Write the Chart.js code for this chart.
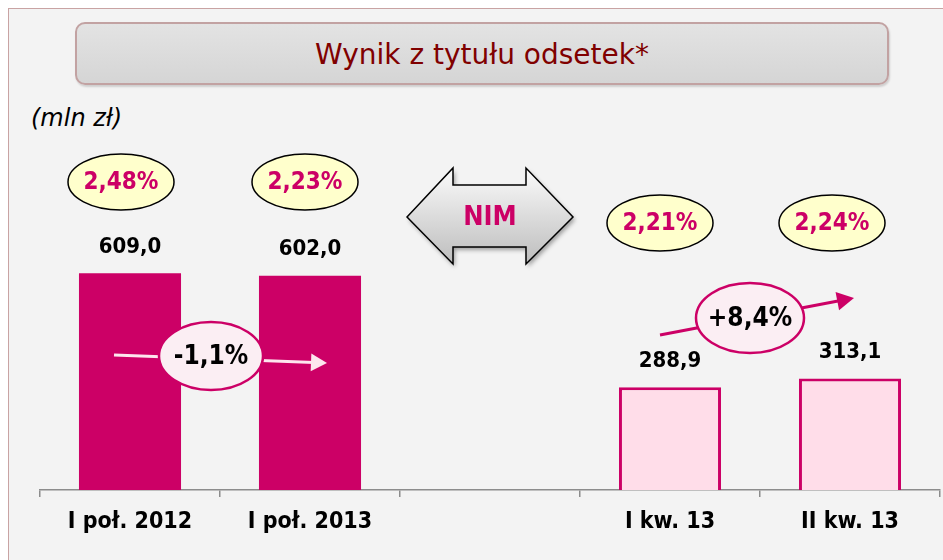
<!DOCTYPE html>
<html>
<head>
<meta charset="utf-8">
<script src="https://cdn.jsdelivr.net/npm/chart.js@4.4.0/dist/chart.umd.min.js"></script>
<style>
  body { margin: 0; background: #fff; width: 943px; height: 560px; overflow: hidden; position: relative;
    font-family: "DejaVu Sans", sans-serif; }
  #frame { position: absolute; left: 8px; top: 8px; width: 960px; height: 580px; background: #f3f3f3;
    border: 1px solid #c9a3a3; }
  #title { position: absolute; left: 75px; top: 22px; width: 810px; height: 59px; border: 2px solid #c2a2a2;
    border-radius: 10px; background: linear-gradient(#e3e3e3, #d5d5d5); color: #800000; font-size: 28px;
    line-height: 62px; text-align: center; box-shadow: 1px 2px 2px rgba(0, 0, 0, 0.15); }
  #unit { position: absolute; left: 31px; top: 104px; font-style: italic; font-size: 24px; color: #000; }
  #chart { position: absolute; left: 0; top: 0; }
</style>
</head>
<body>
<div id="frame"></div>
<div id="title">Wynik z tytułu odsetek*</div>
<div id="unit">(mln zł)</div>
<canvas id="chart" width="943" height="560"></canvas>
<script>
const FONT = '"DejaVu Sans Condensed", "DejaVu Sans", sans-serif'

// dane
const categories = ["I poł. 2012", "I poł. 2013", "", "I kw. 13", "II kw. 13"]
const values = [609.0, 602.0, null, 288.9, 313.1]
const nimLabels = ["2,48%", "2,23%", "", "2,21%", "2,24%"]
const changeLabels = ["-1,1%", "+8,4%"]

const fmt = (v) => v.toFixed(1).replace(".", ",")

function ellipse(ctx, cx, cy, rx, ry, fill, stroke, lw) {
  ctx.beginPath()
  ctx.ellipse(cx, cy, rx, ry, 0, 0, Math.PI * 2)
  ctx.fillStyle = fill
  ctx.fill()
  ctx.lineWidth = lw
  ctx.strokeStyle = stroke
  ctx.stroke()
}

function arrow(ctx, x1, y1, x2, y2, color, lw, head) {
  const a = Math.atan2(y2 - y1, x2 - x1)
  ctx.strokeStyle = color
  ctx.fillStyle = color
  ctx.lineWidth = lw
  ctx.beginPath()
  ctx.moveTo(x1, y1)
  ctx.lineTo(x2 - Math.cos(a) * head * 0.8, y2 - Math.sin(a) * head * 0.8)
  ctx.stroke()
  ctx.beginPath()
  ctx.moveTo(x2, y2)
  ctx.lineTo(x2 - head * Math.cos(a) + head * 0.55 * Math.sin(a), y2 - head * Math.sin(a) - head * 0.55 * Math.cos(a))
  ctx.lineTo(x2 - head * Math.cos(a) - head * 0.55 * Math.sin(a), y2 - head * Math.sin(a) + head * 0.55 * Math.cos(a))
  ctx.closePath()
  ctx.fill()
}

const annotations = {
  id: "annotations",
  afterDatasetsDraw(chart) {
    const ctx = chart.ctx
    const xs = chart.scales.x
    const ys = chart.scales.y
    ctx.save()
    ctx.textAlign = "center"
    ctx.textBaseline = "middle"

    // wartości nad słupkami
    ctx.font = "bold 22px " + FONT
    ctx.fillStyle = "#000"
    values.forEach((v, i) => {
      if (v == null) return
      ctx.fillText(fmt(v), xs.getPixelForValue(i), ys.getPixelForValue(v) - 26)
    })

    // NIM - elipsy
    const nimDx = [-9, -5, 0, -10, -18]
    nimLabels.forEach((t, i) => {
      if (!t) return
      const cx = xs.getPixelForValue(i) + nimDx[i]
      const cy = i < 2 ? 182 : 223
      ellipse(ctx, cx, cy, 53, 28, "#ffffcc", "#000", 1.5)
      ctx.font = "bold 24px " + FONT
      ctx.fillStyle = "#cc0066"
      ctx.fillText(t, cx, cy + 1)
    })

    // strzałka NIM
    const ax = xs.getPixelForValue(2)
    const ay = 217
    const pts = [[-83, 0], [-37, -49], [-37, -32], [36, -32], [36, -49], [83, 0], [36, 47], [36, 30], [-37, 30], [-37, 47]]
    ctx.beginPath()
    pts.forEach(([dx, dy], k) => (k ? ctx.lineTo(ax + dx, ay + dy) : ctx.moveTo(ax + dx, ay + dy)))
    ctx.closePath()
    const g = ctx.createLinearGradient(0, ay - 49, 0, ay + 47)
    g.addColorStop(0, "#fbfbfb")
    g.addColorStop(1, "#bdbdbd")
    ctx.save()
    ctx.shadowColor = "rgba(0,0,0,0.35)"
    ctx.shadowBlur = 4
    ctx.shadowOffsetX = 2
    ctx.shadowOffsetY = 3
    ctx.fillStyle = g
    ctx.fill()
    ctx.restore()
    ctx.lineWidth = 1.5
    ctx.strokeStyle = "#000"
    ctx.stroke()
    ctx.font = "bold 27px " + FONT
    ctx.fillStyle = "#cc0066"
    ctx.fillText("NIM", ax, ay + 1)

    // zmiana r/r
    const x0 = xs.getPixelForValue(0)
    const x1 = xs.getPixelForValue(1)
    arrow(ctx, x0 - 16, 355, x1 + 17, 363, "#fde6ee", 3, 16)
    ellipse(ctx, (x0 + x1) / 2 - 9, 356, 52, 34, "#fbeef3", "#cc0066", 2.5)
    ctx.font = "bold 26px " + FONT
    ctx.fillStyle = "#000"
    ctx.fillText(changeLabels[0], (x0 + x1) / 2 - 9, 357)

    // zmiana q/q
    const x3 = xs.getPixelForValue(3)
    const x4 = xs.getPixelForValue(4)
    arrow(ctx, x3 - 10, 335, x4 + 4, 298, "#cc0066", 3, 17)
    ellipse(ctx, (x3 + x4) / 2 - 10, 318, 54, 35, "#fbeef3", "#cc0066", 2.5)
    ctx.fillStyle = "#000"
    ctx.fillText(changeLabels[1], (x3 + x4) / 2 - 10, 319)

    ctx.restore()
  },
}

new Chart(document.getElementById("chart"), {
  type: "bar",
  data: {
    labels: categories,
    datasets: [
      {
        data: values,
        backgroundColor: ["#cc0066", "#cc0066", "#cc0066", "#ffdde9", "#ffdde9"],
        borderColor: "#cc0066",
        borderWidth: [0, 0, 0, 3, 3],
        categoryPercentage: 1,
        barPercentage: 0.567,
      },
    ],
  },
  options: {
    responsive: false,
    animation: false,
    layout: { padding: { top: 134, left: 40, right: 3, bottom: 0 } },
    plugins: { legend: { display: false }, tooltip: { enabled: false } },
    scales: {
      y: { display: false, min: 0, max: 1000 },
      x: {
        afterFit: (s) => { s.height = 70 },
        border: { display: true, color: "#8c8c8c", width: 1.5 },
        grid: { offset: true, drawOnChartArea: false, drawTicks: true, tickLength: 7, color: "#8c8c8c", lineWidth: 1.5 },
        ticks: { color: "#000", padding: 11, maxRotation: 0, font: { family: FONT, size: 23, weight: "bold" } },
      },
    },
  },
  plugins: [annotations],
})
</script>
</body>
</html>
